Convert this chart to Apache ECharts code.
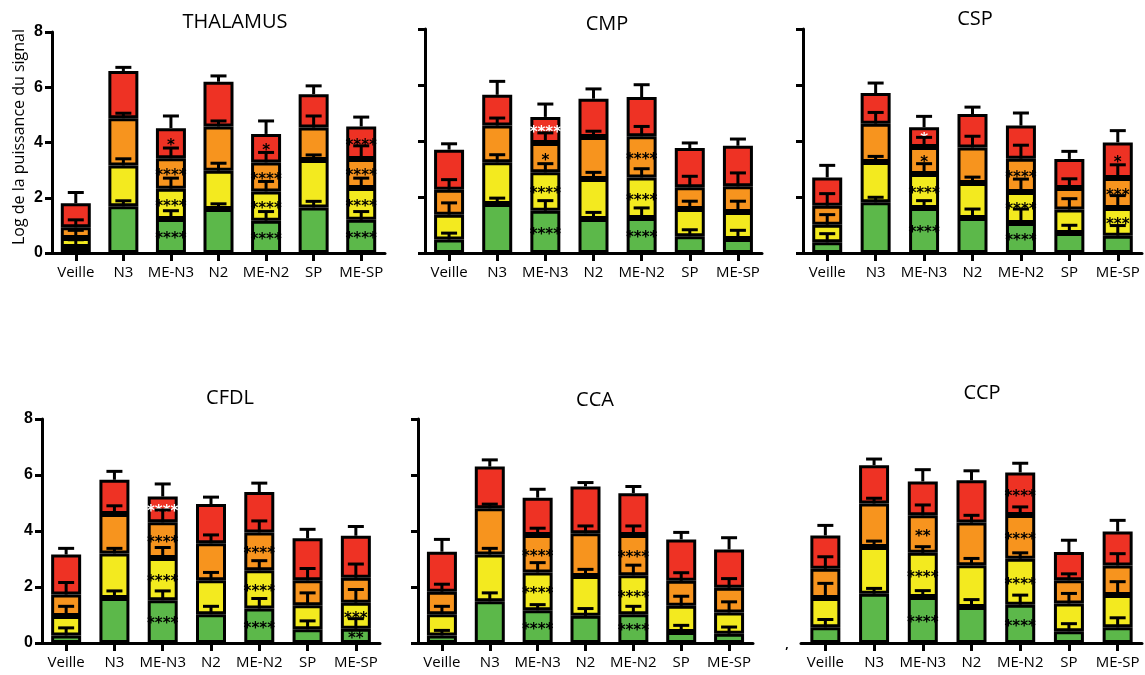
<!DOCTYPE html>
<html>
<head>
<meta charset="utf-8">
<script src="https://cdn.jsdelivr.net/npm/echarts@6/dist/echarts.min.js"></script>
<style>
html,body{margin:0;padding:0;background:#fff;}
#chart{width:1145px;height:675px;}
</style>
</head>
<body>
<div id="chart"></div>
<script>
// ---------- DATA ----------
const categories = ['Veille', 'N3', 'ME-N3', 'N2', 'ME-N2', 'SP', 'ME-SP'];
const bandNames = ['green', 'yellow', 'orange', 'red'];
const panelTitles = ['THALAMUS', 'CMP', 'CSP', 'CFDL', 'CCA', 'CCP'];
const yTicks = [0, 2, 4, 6, 8];
const yAxisTitle = 'Log de la puissance du signal';

// segment values (green, yellow, orange, red) per category
const thalamusMeans = [
  [0.22, 1.69, 1.23, 1.59, 1.17, 1.65, 1.20],
  [0.32, 1.48, 1.10, 1.39, 1.06, 1.72, 1.15],
  [0.39, 1.71, 1.10, 1.60, 1.05, 1.17, 1.05],
  [0.87, 1.71, 1.09, 1.62, 1.03, 1.21, 1.18]
];
const thalamusSEM = [
  [0.26, 0.20, 0.30, 0.19, 0.33, 0.22, 0.30],
  [0.28, 0.24, 0.38, 0.27, 0.36, 0.18, 0.36],
  [0.27, 0.18, 0.37, 0.20, 0.36, 0.42, 0.48],
  [0.39, 0.13, 0.44, 0.21, 0.47, 0.30, 0.34]
];
const thalamusStars = [
  ['', '', '****', '', '****', '', '****'],
  ['', '', '****', '', '****', '', '****'],
  ['', '', '****', '', '****', '', '****'],
  ['', '', '*', '', '*', '', '****']
];

const cmpMeans = [
  [0.48, 1.75, 1.51, 1.21, 1.25, 0.60, 0.50],
  [0.89, 1.49, 1.37, 1.43, 1.45, 0.97, 0.96],
  [0.89, 1.31, 1.05, 1.50, 1.47, 0.78, 0.92],
  [1.43, 1.10, 0.93, 1.37, 1.40, 1.40, 1.45]
];
const cmpSEM = [
  [0.23, 0.21, 0.36, 0.24, 0.36, 0.23, 0.31],
  [0.42, 0.27, 0.31, 0.24, 0.31, 0.28, 0.39],
  [0.36, 0.27, 0.36, 0.21, 0.35, 0.39, 0.48],
  [0.21, 0.48, 0.46, 0.35, 0.44, 0.18, 0.24]
];
const cmpStars = [
  ['', '', '****', '', '****', '', ''],
  ['', '', '****', '', '****', '', ''],
  ['', '', '*', '', '****', '', ''],
  ['', '', '****', '', '', '', '']
];

const cspMeans = [
  [0.38, 1.81, 1.61, 1.25, 1.07, 0.71, 0.62],
  [0.63, 1.44, 1.21, 1.25, 1.11, 0.84, 0.99],
  [0.68, 1.37, 0.97, 1.27, 1.19, 0.77, 1.07],
  [1.01, 1.09, 0.70, 1.19, 1.18, 1.04, 1.27]
];
const cspSEM = [
  [0.31, 0.18, 0.26, 0.32, 0.50, 0.28, 0.36],
  [0.36, 0.20, 0.37, 0.21, 0.46, 0.39, 0.44],
  [0.43, 0.40, 0.34, 0.40, 0.48, 0.33, 0.47],
  [0.43, 0.36, 0.39, 0.25, 0.45, 0.27, 0.42]
];
const cspStars = [
  ['', '', '****', '', '****', '', ''],
  ['', '', '****', '', '****', '', '***'],
  ['', '', '*', '', '****', '', '***'],
  ['', '', '*', '', '', '', '*']
];

const cfdlMeans = [
  [0.27, 1.61, 1.53, 1.03, 1.23, 0.49, 0.51],
  [0.69, 1.59, 1.51, 1.21, 1.37, 0.86, 0.93],
  [0.77, 1.41, 1.27, 1.32, 1.35, 0.89, 0.89],
  [1.43, 1.22, 0.92, 1.40, 1.44, 1.50, 1.50]
];
const cfdlSEM = [
  [0.27, 0.25, 0.33, 0.28, 0.36, 0.30, 0.36],
  [0.35, 0.18, 0.37, 0.28, 0.34, 0.44, 0.47],
  [0.43, 0.29, 0.44, 0.30, 0.41, 0.42, 0.49],
  [0.22, 0.30, 0.45, 0.25, 0.32, 0.32, 0.33]
];
const cfdlStars = [
  ['', '', '****', '', '****', '', '**'],
  ['', '', '****', '', '****', '', '***'],
  ['', '', '****', '', '****', '', ''],
  ['', '', '****', '', '', '', '']
];

const ccaMeans = [
  [0.27, 1.49, 1.17, 0.97, 1.03, 0.39, 0.33],
  [0.76, 1.67, 1.35, 1.42, 1.39, 0.94, 0.76],
  [0.80, 1.65, 1.34, 1.53, 1.44, 0.89, 0.88],
  [1.43, 1.49, 1.33, 1.67, 1.49, 1.48, 1.37]
];
const ccaSEM = [
  [0.18, 0.30, 0.20, 0.26, 0.28, 0.24, 0.24],
  [0.28, 0.22, 0.35, 0.24, 0.36, 0.34, 0.38],
  [0.27, 0.15, 0.24, 0.26, 0.32, 0.29, 0.33],
  [0.44, 0.24, 0.30, 0.14, 0.24, 0.25, 0.42]
];
const ccaStars = [
  ['', '', '****', '', '****', '', ''],
  ['', '', '****', '', '****', '', ''],
  ['', '', '****', '', '****', '', ''],
  ['', '', '', '', '', '', '']
];

const ccpMeans = [
  [0.56, 1.76, 1.64, 1.29, 1.37, 0.42, 0.56],
  [1.05, 1.67, 1.58, 1.49, 1.64, 0.99, 1.15],
  [1.04, 1.55, 1.34, 1.52, 1.56, 0.83, 1.06],
  [1.19, 1.37, 1.21, 1.51, 1.52, 1.01, 1.21]
];
const ccpSEM = [
  [0.28, 0.19, 0.23, 0.26, 0.34, 0.27, 0.34],
  [0.52, 0.21, 0.22, 0.24, 0.21, 0.36, 0.48],
  [0.43, 0.19, 0.37, 0.26, 0.29, 0.23, 0.42],
  [0.36, 0.22, 0.42, 0.34, 0.33, 0.42, 0.40]
];
const ccpStars = [
  ['', '', '****', '', '****', '', ''],
  ['', '', '****', '', '****', '', ''],
  ['', '', '**', '', '****', '', ''],
  ['', '', '', '', '****', '', '']
];

// star labels printed in white: [panel index, band index, category index]
const whiteStarCells = [[1, 3, 2], [2, 3, 2], [3, 3, 2]];

// ---------- LAYOUT / STYLE ----------
const bandColors = ['#5cb84a', '#f3ea1f', '#f7941e', '#ee3224'];
const grids = [
  {left: 52, top: 32, width: 333, height: 221},
  {left: 425, top: 29, width: 337, height: 224},
  {left: 803, top: 29, width: 339, height: 224},
  {left: 42, top: 419, width: 338, height: 224},
  {left: 418, top: 419, width: 335, height: 224},
  {left: 801, top: 419, width: 341, height: 224}
];
const showYLabels = [true, false, false, true, false, false];
const showYAxis = [true, true, true, true, true, false];
const titlePos = [[235, 22], [607, 24], [975, 19], [230, 398], [595, 400], [982, 393]];

const panelMeans = [thalamusMeans, cmpMeans, cspMeans, cfdlMeans, ccaMeans, ccpMeans];
const panelSEM = [thalamusSEM, cmpSEM, cspSEM, cfdlSEM, ccaSEM, ccpSEM];
const panelStars = [thalamusStars, cmpStars, cspStars, cfdlStars, ccaStars, ccpStars];

const FONT = "'Open Sans', 'Liberation Sans', sans-serif";

function isWhite(p, b, c) {
  return whiteStarCells.some(w => w[0] === p && w[1] === b && w[2] === c);
}

function renderError(params, api) {
  const x = api.value(0), lo = api.value(1), hi = api.value(2);
  const p0 = api.coord([x, lo]);
  const p1 = api.coord([x, hi]);
  const hw = 8;
  return {
    type: 'group',
    children: [
      {type: 'line', shape: {x1: p0[0], y1: p0[1], x2: p1[0], y2: p1[1]}, style: {stroke: '#000', lineWidth: 3}},
      {type: 'line', shape: {x1: p1[0] - hw, y1: p1[1], x2: p1[0] + hw, y2: p1[1]}, style: {stroke: '#000', lineWidth: 3}}
    ]
  };
}

const xAxes = [], yAxes = [], series = [], graphics = [];

grids.forEach((g, p) => {
  xAxes.push({
    type: 'category', gridIndex: p, data: categories,
    axisLine: {show: true, lineStyle: {color: '#000', width: 3}},
    axisTick: {show: true, alignWithLabel: true, length: 8, lineStyle: {color: '#000', width: 3}},
    axisLabel: {color: '#000', fontSize: 15, fontFamily: FONT, margin: 12, interval: 0},
    splitLine: {show: false}
  });
  yAxes.push({
    type: 'value', gridIndex: p, min: yTicks[0], max: yTicks[yTicks.length - 1], interval: 2,
    show: showYAxis[p],
    axisLine: {show: true, lineStyle: {color: '#000', width: 3}},
    axisTick: {show: true, length: 7, lineStyle: {color: '#000', width: 3}},
    axisLabel: {show: showYLabels[p], color: '#000', fontSize: 16, fontWeight: 'bold', fontFamily: "'Liberation Sans', Arial, sans-serif", margin: 9},
    splitLine: {show: false}
  });

  const means = panelMeans[p], sem = panelSEM[p], stars = panelStars[p];
  const cum = categories.map(() => 0);
  const errData = [];
  means.forEach((band, b) => {
    series.push({
      type: 'bar', name: bandNames[b], stack: 'p' + p,
      xAxisIndex: p, yAxisIndex: p, barWidth: 30,
      itemStyle: {color: bandColors[b], borderColor: '#000', borderWidth: 3},
      animation: false,
      z: 2,
      data: band.map((v, c) => ({
        value: v,
        label: {
          show: !!stars[b][c], position: 'inside', formatter: stars[b][c],
          color: isWhite(p, b, c) ? '#fff' : '#000',
          fontSize: 15, fontWeight: 'bold', fontFamily: "'DejaVu Sans', sans-serif", offset: [0, 3]
        }
      }))
    });
    band.forEach((v, c) => {
      cum[c] += v;
      errData.push([c, cum[c], cum[c] + sem[b][c]]);
    });
  });
  series.push({
    type: 'custom', xAxisIndex: p, yAxisIndex: p, renderItem: renderError,
    encode: {x: 0, y: [1, 2]}, data: errData, z: 5, animation: false, silent: true
  });

  graphics.push({
    type: 'text', x: titlePos[p][0], y: titlePos[p][1],
    style: {text: panelTitles[p], fill: '#000', font: "20px 'Open Sans', sans-serif", textAlign: 'center', textVerticalAlign: 'middle'}
  });
});

graphics.push({
  type: 'text', x: 19, y: 137, rotation: Math.PI / 2,
  style: {text: yAxisTitle, fill: '#000', font: "16px 'Open Sans', sans-serif", textAlign: 'center', textVerticalAlign: 'middle'}
});
graphics.push({
  type: 'text', x: 787, y: 645,
  style: {text: ',', fill: '#000', font: "bold 12px 'Open Sans', sans-serif", textAlign: 'center', textVerticalAlign: 'middle'}
});

const chart = echarts.init(document.getElementById('chart'), null, {renderer: 'canvas'});
chart.setOption({
  backgroundColor: '#fff',
  animation: false,
  grid: grids,
  xAxis: xAxes,
  yAxis: yAxes,
  series: series,
  graphic: graphics
});
</script>
</body>
</html>
